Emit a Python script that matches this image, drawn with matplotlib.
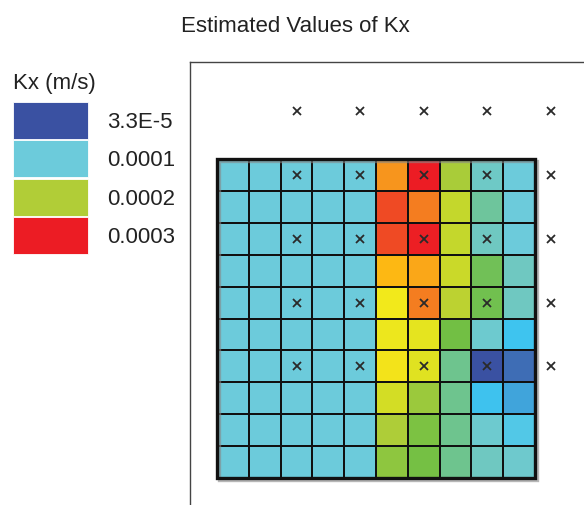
import numpy as np
import matplotlib
matplotlib.use("Agg")
import matplotlib.pyplot as plt
import matplotlib.patheffects as pe
from matplotlib.colors import LinearSegmentedColormap, Normalize
from matplotlib.patches import Rectangle

plt.rcParams['font.family'] = ['Liberation Sans', 'DejaVu Sans']

# estimated hydraulic conductivity Kx (m/s), rows from top to bottom, 10 x 10 cells
kx = np.array([
    [1.0, 1.0, 1.0, 1.0, 1.0, 2.65, 3.00, 1.95, 1.10, 1.00],
    [1.0, 1.0, 1.0, 1.0, 1.0, 2.85, 2.73, 2.12, 1.25, 1.00],
    [1.0, 1.0, 1.0, 1.0, 1.0, 2.85, 2.98, 2.12, 1.12, 1.00],
    [1.0, 1.0, 1.0, 1.0, 1.0, 2.50, 2.58, 2.15, 1.45, 1.12],
    [1.0, 1.0, 1.0, 1.0, 1.0, 2.33, 2.73, 2.07, 1.47, 1.12],
    [1.0, 1.0, 1.0, 1.0, 1.0, 2.31, 2.28, 1.50, 1.05, 0.85],
    [1.0, 1.0, 1.0, 1.0, 1.0, 2.35, 2.25, 1.30, 0.33, 0.50],
    [1.0, 1.0, 1.0, 1.0, 1.0, 2.20, 1.85, 1.30, 0.84, 0.70],
    [1.0, 1.0, 1.0, 1.0, 1.0, 1.98, 1.60, 1.30, 1.05, 0.92],
    [1.0, 1.0, 1.0, 1.0, 1.0, 1.75, 1.52, 1.30, 1.12, 1.07],
]) * 1e-4

# observation wells (cell column / row index, row -2 lies above the grid)
obs_col = [2, 4, 6, 8, 10]
obs_row = [-2, 0, 2, 4, 6]

legend_values = [3.3e-5, 1e-4, 2e-4, 3e-4]
legend_labels = ['3.3E-5', '0.0001', '0.0002', '0.0003']

# colour ramp used for Kx (values in 1e-4 m/s)
ramp = [
    (0.33, '#3a51a2'), (0.50, '#3e6db5'), (0.70, '#40a5dc'), (0.85, '#3ec6f0'),
    (1.00, '#6ccbdb'), (1.12, '#6fc8c0'), (1.30, '#6ec48f'), (1.50, '#72bf44'),
    (1.75, '#8dc63f'), (2.00, '#b0cd37'), (2.20, '#d2dd25'), (2.33, '#f2e91b'),
    (2.50, '#fdba12'), (2.65, '#f7961d'), (2.75, '#f47a20'), (2.85, '#ef4b24'),
    (3.00, '#ec1c24'),
]
lo, hi = ramp[0][0], ramp[-1][0]
cmap = LinearSegmentedColormap.from_list(
    'kx', [((v - lo) / (hi - lo), c) for v, c in ramp])
norm = Normalize(lo * 1e-4, hi * 1e-4, clip=True)

W, H = 584, 506
fig = plt.figure(figsize=(W / 100, H / 100), dpi=100)

# pixel overlay for title and legend
lax = fig.add_axes([0, 0, 1, 1], zorder=0)
lax.set_xlim(0, W)
lax.set_ylim(H, 0)
lax.axis('off')

fs = 16
lax.text(295, 32, 'Estimated Values of Kx', ha='center', va='baseline',
         fontsize=fs, color='#222222')
lax.text(13, 89, 'Kx (m/s)', ha='left', va='baseline', fontsize=fs, color='#222222')
for i, (v, lab) in enumerate(zip(legend_values, legend_labels)):
    top = 103 + i * 38.3
    lax.add_patch(Rectangle((13, top), 75, 37, facecolor=cmap(norm(v)),
                            edgecolor='white', linewidth=0.6))
    lax.text(107, top + 19.5, lab, ha='left', va='center', fontsize=fs, color='#222222')

# model domain: 1 unit = one cell
left_px, top_px, right_px, bot_px = 190, 63, 620, 530
x0_px, y0_px, cw, ch = 217, 160, 31.8, 31.9
ax = fig.add_axes([left_px / W, 1 - bot_px / H, (right_px - left_px) / W,
                   (bot_px - top_px) / H], zorder=1)
ax.set_facecolor('none')
ax.set_xlim((left_px - x0_px) / cw, (right_px - x0_px) / cw)
ax.set_ylim((bot_px - y0_px) / ch, (top_px - y0_px) / ch)
ax.set_xticks([])
ax.set_yticks([])
for s in ('right', 'bottom'):
    ax.spines[s].set_visible(False)
for s in ('left', 'top'):
    ax.spines[s].set_color('#444444')
    ax.spines[s].set_linewidth(1.0)

nr, nc = kx.shape
ax.pcolormesh(np.arange(nc + 1), np.arange(nr + 1), kx, cmap=cmap, norm=norm,
              edgecolors='#111111', linewidth=1.1)
border = Rectangle((0, 0), nc, nr, fill=False, edgecolor='#111111', linewidth=2.4)
border.set_path_effects([pe.SimpleLineShadow(offset=(1.2, -1.2), shadow_color='#888888', alpha=0.6),
                         pe.Normal()])
ax.add_patch(border)

cc, rr = np.meshgrid(obs_col, obs_row)
ax.plot(cc.ravel() + 0.5, rr.ravel() + 0.5, 'x', color='#2a2a2a',
        markersize=5.5, markeredgewidth=1.3, clip_on=False)

fig.savefig('out.png', dpi=100)
